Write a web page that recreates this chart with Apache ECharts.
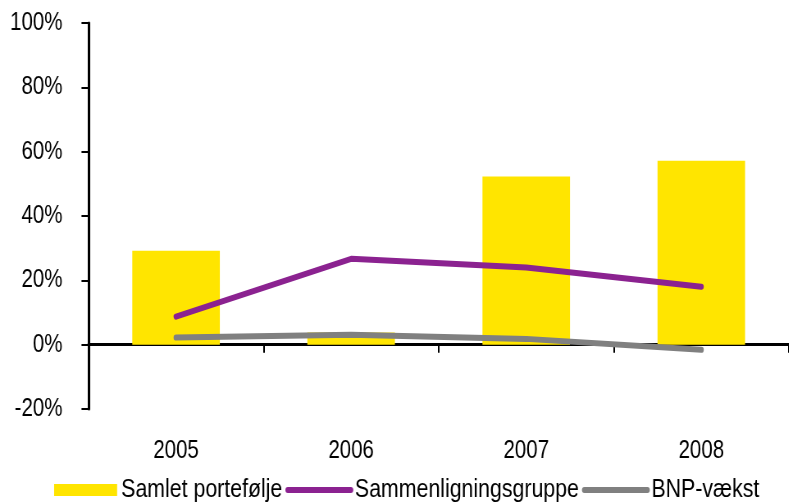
<!DOCTYPE html>
<html>
<head>
<meta charset="utf-8">
<script src="https://cdn.jsdelivr.net/npm/echarts@6/dist/echarts.min.js"></script>
<style>
  html, body { margin: 0; padding: 0; background: #fff; overflow: hidden; }
  #wrap { width: 789px; height: 502px; overflow: hidden; }
  /* the chart is laid out wide and squeezed horizontally for condensed lettering */
  #chart { width: 962px; height: 502px; transform: scaleX(0.82); transform-origin: 0 0; }
</style>
</head>
<body>
<div id="wrap"><div id="chart"></div></div>
<script>
// Years on the category axis
const years = ['2005', '2006', '2007', '2008'];
// Growth rates in percent
const samletPortefolje = [29.2, 3.8, 52.3, 57.2];
const sammenligningsgruppe = [8.7, 26.7, 24.0, 18.0];
const bnpVaekst = [2.2, 3.1, 1.8, -1.6];
// Value axis range and step (percent)
const yMin = -20, yMax = 100, yStep = 20;

const SX = 0.82;               // horizontal squeeze applied by CSS
const px = v => v / SX;        // convert on-screen x distances to layout units
const FONT = '"Liberation Sans", Arial, sans-serif';
const chart = echarts.init(document.getElementById('chart'), null, { renderer: 'canvas' });

chart.setOption({
  animation: false,
  backgroundColor: '#ffffff',
  textStyle: { fontFamily: FONT },
  grid: { left: px(88.5), top: 23, width: px(705), bottom: 93, containLabel: false },
  legend: {
    left: px(50),
    top: 472,
    itemWidth: px(63),
    itemHeight: 12,
    itemGap: px(3),
    textStyle: { fontFamily: FONT, fontSize: 26, color: '#000' },
    data: [
      { name: 'Samlet portefølje', icon: 'rect' },
      { name: 'Sammenligningsgruppe', itemStyle: { opacity: 0 }, lineStyle: { width: 6, cap: 'round' } },
      { name: 'BNP-vækst', itemStyle: { opacity: 0 }, lineStyle: { width: 6, cap: 'round' } }
    ]
  },
  xAxis: [
    {
      // labelled axis at the bottom of the plot
      type: 'category',
      data: years,
      position: 'bottom',
      axisLine: { show: false, onZero: false },
      axisTick: { show: false },
      axisLabel: { margin: 30, fontFamily: FONT, fontSize: 25, color: '#000' }
    },
    {
      // baseline through zero with tick marks between years
      type: 'category',
      data: years,
      position: 'bottom',
      axisLine: { show: true, onZero: true, lineStyle: { color: '#000', width: 3 } },
      axisTick: { show: true, length: 8, lineStyle: { color: '#000', width: 2 } },
      axisLabel: { show: false }
    }
  ],
  yAxis: {
    type: 'value',
    min: yMin,
    max: yMax,
    interval: yStep,
    axisLine: { show: true, lineStyle: { color: '#000', width: 3 } },
    axisTick: { show: true, length: px(7), lineStyle: { color: '#000', width: 2 } },
    splitLine: { show: false },
    axisLabel: {
      margin: px(26),
      fontFamily: FONT,
      fontSize: 25,
      color: '#000',
      formatter: v => v + '%'
    }
  },
  series: [
    {
      name: 'Samlet portefølje',
      type: 'bar',
      data: samletPortefolje,
      barWidth: '50%',
      itemStyle: { color: '#FFE500' }
    },
    {
      name: 'Sammenligningsgruppe',
      type: 'line',
      data: sammenligningsgruppe,
      symbol: 'none',
      lineStyle: { color: '#8B2290', width: 6, cap: 'round', join: 'round' },
      itemStyle: { color: '#8B2290' }
    },
    {
      name: 'BNP-vækst',
      type: 'line',
      data: bnpVaekst,
      symbol: 'none',
      lineStyle: { color: '#808080', width: 6, cap: 'round', join: 'round' },
      itemStyle: { color: '#808080' }
    }
  ]
});
</script>
</body>
</html>
